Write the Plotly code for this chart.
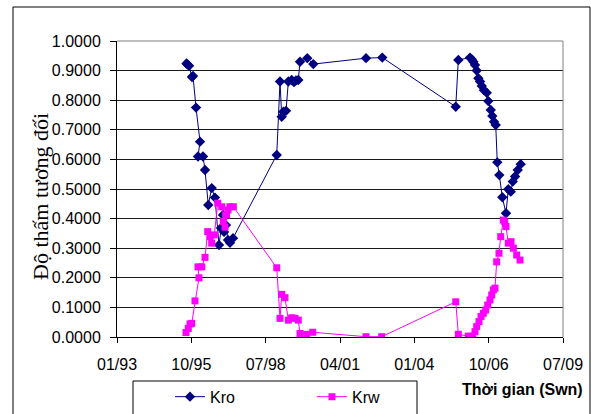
import pandas as pd
import plotly.graph_objects as go

# Dates stored as Excel serial day numbers (as in the source workbook)
kro_serial = [34935, 34948, 34969, 35009, 35022, 35063, 35117, 35090, 35157, 35184,
              35228, 35274, 35318, 35372, 35399, 35426, 35440, 35466, 35493, 35520,
              35561, 36149, 36193, 36216, 36237, 36274, 36305, 36350, 36381, 36408,
              36439, 36462, 36560, 36641, 37350, 37569, 38557, 38592, 38749, 38772,
              38794, 38816, 38839, 38861, 38884, 38907, 38937, 38974, 38995, 39028,
              39049, 39072, 39095, 39116, 39143, 39184, 39233, 39264, 39297, 39324,
              39355, 39391, 39431]
kro_values = [0.924, 0.921, 0.916, 0.878, 0.882, 0.775, 0.660, 0.610, 0.610, 0.564,
              0.446, 0.503, 0.471, 0.311, 0.368, 0.412, 0.355, 0.378, 0.328, 0.318,
              0.334, 0.615, 0.863, 0.744, 0.761, 0.764, 0.863, 0.868, 0.861, 0.867,
              0.868, 0.930, 0.942, 0.922, 0.942, 0.944, 0.778, 0.936, 0.944, 0.938,
              0.930, 0.919, 0.900, 0.874, 0.863, 0.848, 0.834, 0.825, 0.797, 0.767,
              0.747, 0.727, 0.716, 0.590, 0.547, 0.472, 0.418, 0.499, 0.491, 0.525,
              0.542, 0.564, 0.584]

krw_serial = [34928, 34959, 34982, 35005, 35049, 35103, 35090, 35140, 35184, 35220,
              35251, 35274, 35309, 35355, 35409, 35430, 35453, 35473, 35493, 35520,
              35565, 36149, 36193, 36216, 36260, 36305, 36350, 36395, 36439, 36462,
              36552, 36633, 37350, 37561, 38557, 38592, 38726, 38785, 38816, 38839,
              38870, 38897, 38928, 38960, 38987, 39018, 39041, 39063, 39085, 39108,
              39139, 39162, 39197, 39216, 39233, 39264, 39301, 39332, 39377, 39422]
krw_values = [0.015, 0.029, 0.044, 0.046, 0.122, 0.200, 0.237, 0.237, 0.269, 0.356,
              0.339, 0.317, 0.345, 0.452, 0.440, 0.390, 0.371, 0.412, 0.429, 0.440,
              0.440, 0.234, 0.063, 0.144, 0.133, 0.057, 0.065, 0.063, 0.057, 0.012,
              0.009, 0.016, 0.001, 0.001, 0.119, 0.009, 0.003, 0.003, 0.018, 0.035,
              0.052, 0.069, 0.080, 0.091, 0.108, 0.125, 0.142, 0.159, 0.165, 0.254,
              0.283, 0.339, 0.395, 0.389, 0.373, 0.317, 0.322, 0.300, 0.277, 0.260]

x_tick_serial = [34000, 35000, 36000, 37000, 38000, 39000, 40000]
y_tick_values = [0.0, 0.1, 0.2, 0.3, 0.4, 0.5, 0.6, 0.7, 0.8, 0.9, 1.0]

series_names = ["Kro", "Krw"]
y_title = "Độ thấm tương đối"
x_title = "Thời gian (Swn)"


def to_date(s):
    return pd.to_datetime(pd.Series(s), unit="D", origin="1899-12-30")


kro_dates = to_date(kro_serial)
krw_dates = to_date(krw_serial)
x_ticks = to_date(x_tick_serial)

FONT = "Arial, Liberation Sans, sans-serif"

fig = go.Figure()
fig.add_trace(go.Scatter(
    x=kro_dates, y=kro_values, name=series_names[0], mode="lines+markers",
    line=dict(color="#000080", width=1),
    marker=dict(symbol="diamond", size=8, color="#000080"),
))
fig.add_trace(go.Scatter(
    x=krw_dates, y=krw_values, name=series_names[1], mode="lines+markers",
    line=dict(color="#FF00FF", width=1),
    marker=dict(symbol="square", size=7, color="#FF00FF"),
))

fig.update_layout(
    width=591, height=414,
    margin=dict(l=117, r=28, t=41, b=77, autoexpand=False),
    paper_bgcolor="white", plot_bgcolor="white",
    font=dict(family=FONT, size=16, color="black"),
    showlegend=True,
    legend=dict(
        orientation="h", x=0.1188, xanchor="left", y=-0.1445, yanchor="top",
        entrywidth=97, bgcolor="rgba(0,0,0,0)", borderwidth=0,
        font=dict(family=FONT, size=16, color="black"),
    ),
)

fig.update_xaxes(
    type="date", range=[x_ticks.iloc[0], x_ticks.iloc[-1]],
    tickvals=list(x_ticks), tickformat="%m/%y",
    showgrid=False, zeroline=False,
    showline=True, linecolor="black", linewidth=1,
    ticks="outside", ticklen=5, tickcolor="black", tickwidth=1,
    ticklabelstandoff=8,
    tickfont=dict(family=FONT, size=16, color="black"),
)
fig.update_yaxes(
    range=[0, 1], tickvals=y_tick_values, tickformat=".4f",
    showgrid=True, gridcolor="#1a1a1a", gridwidth=1, zeroline=False,
    showline=True, linecolor="black", linewidth=1,
    ticks="outside", ticklen=6, tickcolor="black", tickwidth=1,
    ticklabelstandoff=6,
    tickfont=dict(family=FONT, size=16, color="black"),
)

shapes = [
    # plot area border (top and right, gray)
    dict(type="line", xref="paper", yref="paper", x0=0, x1=1, y0=1, y1=1,
         line=dict(color="#808080", width=1), layer="above"),
    dict(type="line", xref="paper", yref="paper", x0=1, x1=1, y0=0, y1=1,
         line=dict(color="#808080", width=1), layer="above"),
    # chart outer frame
    dict(type="rect", xref="paper", yref="paper",
         x0=(13 - 117) / 446, x1=(590 - 117) / 446,
         y0=(337 - 420) / 296, y1=(337 - 7) / 296,
         line=dict(color="black", width=1), fillcolor="rgba(0,0,0,0)"),
    # legend frame
    dict(type="rect", xref="paper", yref="paper",
         x0=(133 - 117) / 446, x1=(417 - 117) / 446,
         y0=(337 - 420) / 296, y1=(337 - 381) / 296,
         line=dict(color="black", width=1), fillcolor="rgba(0,0,0,0)"),
]
fig.update_layout(shapes=shapes)

fig.add_annotation(
    text=y_title, xref="paper", yref="paper",
    x=(41 - 117) / 446, y=(337 - 197) / 296, textangle=-90,
    showarrow=False, xanchor="center", yanchor="middle",
    font=dict(family="Times New Roman, Liberation Serif, serif", size=22, color="black"),
)
fig.add_annotation(
    text="<b>" + x_title + "</b>", xref="paper", yref="paper",
    x=(522 - 117) / 446, y=(337 - 389) / 296,
    showarrow=False, xanchor="center", yanchor="middle",
    font=dict(family=FONT, size=16, color="black"),
)

fig.write_html("out.html")
